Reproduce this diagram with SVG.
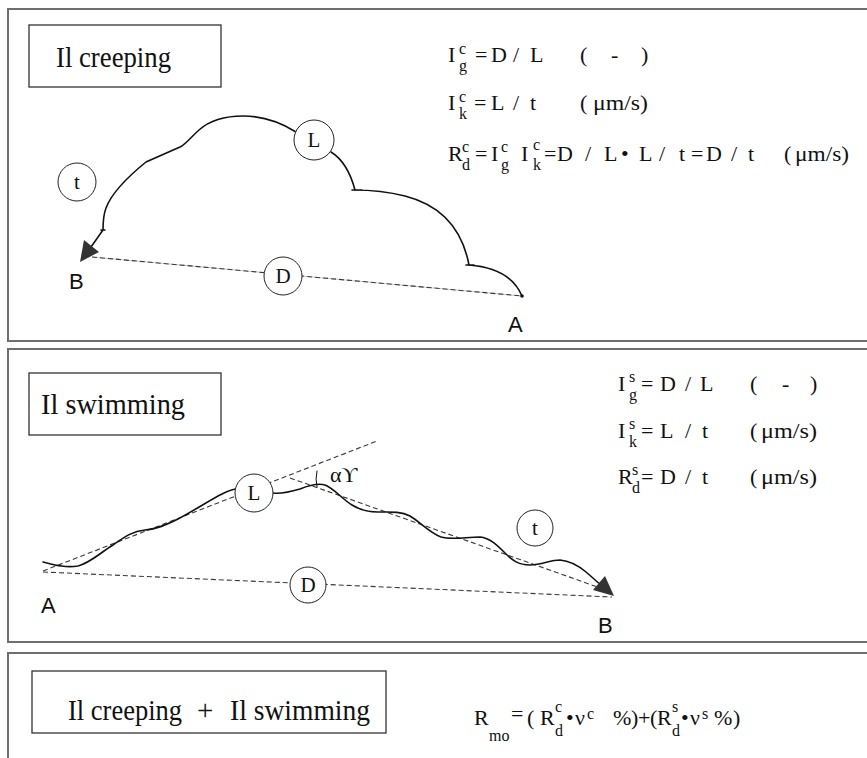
<svg xmlns="http://www.w3.org/2000/svg" width="867" height="758" viewBox="0 0 867 758">
<style>
.frame{fill:none;stroke:#6e6e6e;stroke-width:2}
.box{fill:#fff;stroke:#333;stroke-width:1.3}
.serif{font-family:'Liberation Serif','Times New Roman',Times,'DejaVu Serif',serif;fill:#111}
.title{font-size:29px}
.m{font-size:22px}
.sm{font-size:16px}
.lab{font-family:'Liberation Sans',Arial,sans-serif;font-size:22px;fill:#111}
.circ{fill:#fff;stroke:#222;stroke-width:1}
.cl{font-family:'Liberation Serif','Times New Roman',Times,serif;font-size:21px;fill:#111;text-anchor:middle}
.curve{fill:none;stroke:#111;stroke-width:1.6;stroke-linecap:round}
.dash{fill:none;stroke:#3a3a3a;stroke-width:1.1;stroke-dasharray:5 3}
.under{fill:none;stroke:#c8c8c8;stroke-width:1}
.head{fill:#333}
</style>

<g id="frames">
<path class="frame" d="M867,9 H8 V341 H867"/>
<path class="frame" d="M867,349 H8 V642 H867"/>
<path class="frame" d="M867,653 H8 V758"/>
</g>

<g id="title-creeping">
<rect class="box" x="29" y="25" width="192" height="62"/>
<text class="serif title" x="56" y="67" textLength="115" lengthAdjust="spacingAndGlyphs">Il creeping</text>
</g>

<g id="formulas-creeping" class="serif">
<text class="m" x="448" y="62">I</text><text class="sm" x="459" y="54">c</text><text class="sm" x="459" y="71">g</text>
<text class="m" x="475" y="62">=</text><text class="m" x="491" y="62">D</text><text class="m" x="513" y="62">/</text><text class="m" x="530" y="62">L</text>
<text class="m" x="580" y="62">(</text><text class="m" x="611" y="62">-</text><text class="m" x="641" y="62">)</text>

<text class="m" x="448" y="110">I</text><text class="sm" x="459" y="102">c</text><text class="sm" x="459" y="119">k</text>
<text class="m" x="474" y="110">=</text><text class="m" x="491" y="110">L</text><text class="m" x="513" y="110">/</text><text class="m" x="530" y="110">t</text>
<text class="m" x="580" y="110">(</text><text class="m" x="593" y="110" textLength="55" lengthAdjust="spacingAndGlyphs">μm/s)</text>

<text class="m" x="448" y="161">R</text><text class="sm" x="462" y="152">c</text><text class="sm" x="462" y="170">d</text>
<text class="m" x="475" y="161">=</text>
<text class="m" x="491" y="161">I</text><text class="sm" x="501" y="152">c</text><text class="sm" x="501" y="170">g</text>
<text class="m" x="521" y="161">I</text><text class="sm" x="533" y="150">c</text><text class="sm" x="533" y="170">k</text>
<text class="m" x="544" y="161">=</text><text class="m" x="557" y="161">D</text><text class="m" x="585" y="161">/</text><text class="m" x="604" y="161">L</text>
<text class="m" x="621" y="161">•</text><text class="m" x="639" y="161">L</text><text class="m" x="659" y="161">/</text><text class="m" x="679" y="161">t</text>
<text class="m" x="691" y="161">=</text><text class="m" x="706" y="161">D</text><text class="m" x="731" y="161">/</text><text class="m" x="748" y="161">t</text>
<text class="m" x="784" y="161">(</text><text class="m" x="795" y="161" textLength="54" lengthAdjust="spacingAndGlyphs">μm/s)</text>
</g>

<g id="connectors">
<path class="under" d="M92,257 L522,296"/>
<path class="dash" d="M92,257 L522,296"/>
<path class="curve" d="M522,296 Q510,268 469,265 M466,265 H474"/>
<path class="curve" d="M469,265 C462,228 440,205 405,196 C385,191 366,190 354,190 M352,190 H362"/>
<path class="curve" d="M355,190 C351,175 344,160 331,152"/>
<path class="curve" d="M296,132 C280,122 262,116 243,116 C222,116 208,122 199,130 C190,138 186,144 180,147 L146,162 C130,175 112,192 106,208 C103,216 103,224 103,230 L91,247 M101,230 H105"/>
<polygon class="head" points="80,262 84,240 99,252"/>
<circle cx="522" cy="296" r="1.8" fill="#111"/>

<path class="dash" d="M43,572 L612,597"/>
<path class="dash" d="M43,571 L377,441"/>
<path class="dash" d="M290,478 L606,590"/>
<path class="curve" d="M43,562 C55,565 65,568 78,566 C90,563 100,553 113,545 C123,538 132,531 145,530 C157,529 166,525 178,519 C195,510 210,500 222,494 C228,491 233,489 237,489"/>
<path class="curve" d="M273,493 C282,494 290,492 300,489 C310,485 318,483 325,485 C335,489 342,499 352,505 C360,510 368,512 378,512 C390,512 400,511 410,516 C420,522 430,533 441,537 C452,540 466,537 480,537 C490,538 497,545 505,553 C512,560 518,565 530,565 C542,565 550,560 560,560 C572,561 580,567 586,572 C592,577 596,581 600,584"/>
<polygon class="head" points="614,596 593,590 605,576"/>
<path class="curve" style="stroke-width:1" d="M317,471 Q315,479 317,487"/>
</g>

<g id="node-t1"><circle class="circ" cx="77" cy="182" r="19"/><text class="cl" x="77" y="189">t</text></g>
<g id="node-L1"><circle class="circ" cx="314" cy="140" r="20"/><text class="cl" x="314" y="147">L</text></g>
<g id="node-D1"><circle class="circ" cx="283" cy="276" r="19"/><text class="cl" x="283" y="283">D</text></g>
<g id="label-B1"><text class="lab" x="69" y="289">B</text></g>
<g id="label-A1"><text class="lab" x="508" y="332">A</text></g>

<g id="title-swimming">
<rect class="box" x="29" y="373" width="192" height="62"/>
<text class="serif title" x="41" y="414" textLength="144" lengthAdjust="spacingAndGlyphs">Il  swimming</text>
</g>

<g id="formulas-swimming" class="serif">
<text class="m" x="618" y="391">I</text><text class="sm" x="629" y="382">s</text><text class="sm" x="629" y="400">g</text>
<text class="m" x="641" y="391">=</text><text class="m" x="660" y="391">D</text><text class="m" x="685" y="391">/</text><text class="m" x="700" y="391">L</text>
<text class="m" x="750" y="391">(</text><text class="m" x="782" y="391">-</text><text class="m" x="810" y="391">)</text>

<text class="m" x="618" y="438">I</text><text class="sm" x="629" y="429">s</text><text class="sm" x="629" y="447">k</text>
<text class="m" x="641" y="438">=</text><text class="m" x="660" y="438">L</text><text class="m" x="685" y="438">/</text><text class="m" x="702" y="438">t</text>
<text class="m" x="750" y="438">(</text><text class="m" x="761" y="438" textLength="56" lengthAdjust="spacingAndGlyphs">μm/s)</text>

<text class="m" x="618" y="484">R</text><text class="sm" x="632" y="475">s</text><text class="sm" x="632" y="493">d</text>
<text class="m" x="641" y="484">=</text><text class="m" x="660" y="484">D</text><text class="m" x="685" y="484">/</text><text class="m" x="702" y="484">t</text>
<text class="m" x="750" y="484">(</text><text class="m" x="761" y="484" textLength="56" lengthAdjust="spacingAndGlyphs">μm/s)</text>
</g>

<g id="angle-label"><text class="serif m" x="330" y="482">αϒ</text></g>
<g id="node-L2"><circle class="circ" cx="254" cy="493" r="19"/><text class="cl" x="254" y="500">L</text></g>
<g id="node-D2"><circle class="circ" cx="308" cy="585" r="18"/><text class="cl" x="308" y="592">D</text></g>
<g id="node-t2"><circle class="circ" cx="535" cy="528" r="18"/><text class="cl" x="535" y="535">t</text></g>
<g id="label-A2"><text class="lab" x="41" y="613">A</text></g>
<g id="label-B2"><text class="lab" x="598" y="633">B</text></g>

<g id="title-combined">
<rect class="box" x="32" y="671" width="354" height="62"/>
<text class="serif title" x="68" y="720" textLength="114" lengthAdjust="spacingAndGlyphs">Il creeping</text>
<text class="serif title" x="197" y="720">+</text>
<text class="serif title" x="230" y="720" textLength="140" lengthAdjust="spacingAndGlyphs">Il swimming</text>
</g>

<g id="formula-combined" class="serif">
<text class="m" x="474" y="725">R</text><text class="sm" x="489" y="741">mo</text>
<text class="m" x="511" y="721">=</text><text class="m" x="527" y="725">(</text>
<text class="m" x="540" y="725">R</text><text class="sm" x="555" y="712">c</text><text class="sm" x="555" y="736">d</text>
<text class="m" x="566" y="725">•</text><text class="m" x="575" y="725">ν</text><text class="sm" x="587" y="719">c</text>
<text class="m" x="613" y="725">%</text><text class="m" x="631" y="725">)</text><text class="m" x="638" y="725">+</text><text class="m" x="650" y="725">(</text>
<text class="m" x="657" y="725">R</text><text class="sm" x="672" y="712">s</text><text class="sm" x="672" y="736">d</text>
<text class="m" x="681" y="725">•</text><text class="m" x="690" y="725">ν</text><text class="sm" x="702" y="719">s</text>
<text class="m" x="714" y="725">%</text><text class="m" x="733" y="725">)</text>
</g>
</svg>
